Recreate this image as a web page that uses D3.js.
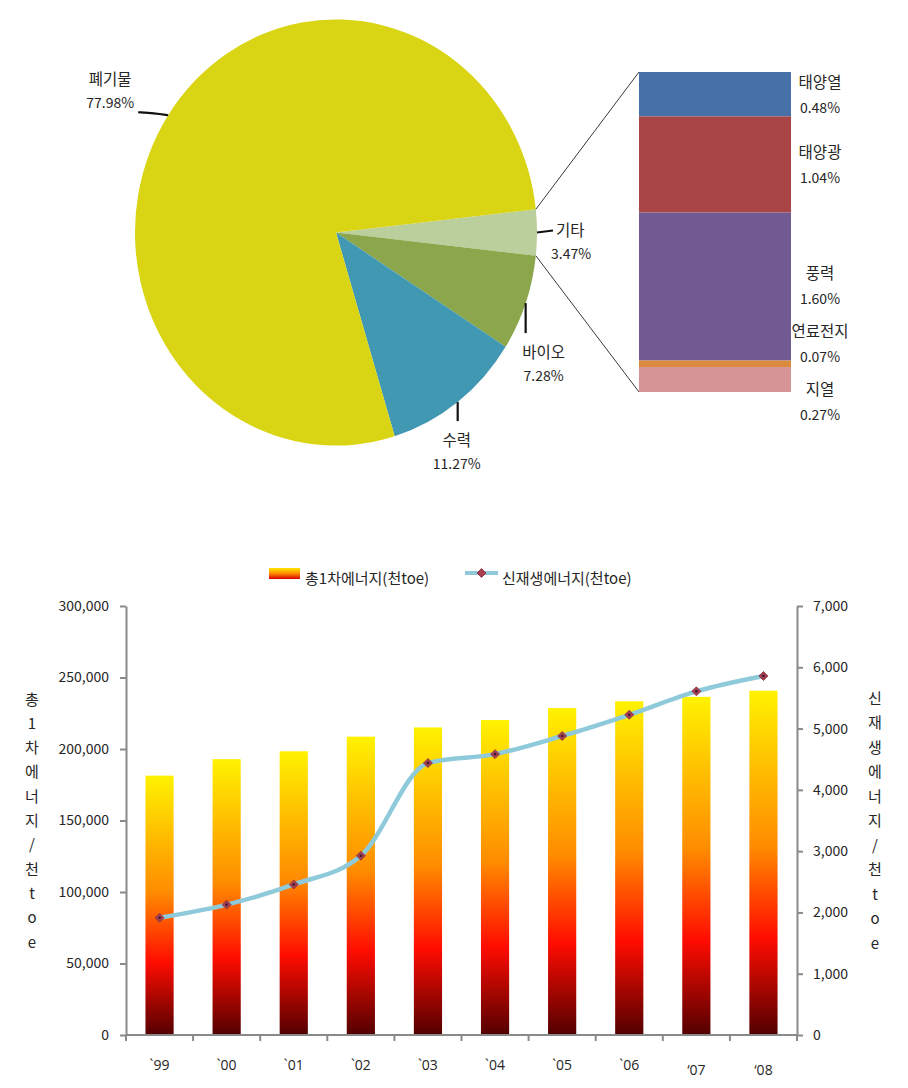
<!DOCTYPE html>
<html><head><meta charset="utf-8">
<script src="https://cdn.jsdelivr.net/npm/d3@7/dist/d3.min.js"></script>
<style>body{margin:0;background:#fff}svg{display:block}</style>
</head><body>
<script>
// ---------- data ----------
const pieCategories = ["기타", "바이오", "수력", "폐기물"];
const pieValues = [3.47, 7.28, 11.27, 77.98];
const otherCategories = ["태양열", "태양광", "풍력", "연료전지", "지열"];
const otherValues = [0.48, 1.04, 1.60, 0.07, 0.27];
const years = ["`99", "`00", "`01", "`02", "`03", "`04", "`05", "`06", "‘07", "‘08"];
const primaryEnergy = [181363, 192887, 198409, 208636, 215067, 220238, 228622, 233372, 236454, 240752];
const renewableEnergy = [1912, 2127, 2456, 2925, 4437, 4583, 4879, 5225, 5608, 5858];
const leftTicks = [0, 50000, 100000, 150000, 200000, 250000, 300000];
const rightTicks = [0, 1000, 2000, 3000, 4000, 5000, 6000, 7000];
const legendLabels = ["총1차에너지(천toe)", "신재생에너지(천toe)"];
const leftTitle = ["총","1","차","에","너","지","/","천","t","o","e"];
const rightTitle = ["신","재","생","에","너","지","/","천","t","o","e"];

// ---------- setup ----------
const W = 908, H = 1088;
const FONT = "'Noto Sans CJK KR','Noto Sans',sans-serif";
const NUMFONT = "'Open Sans','Noto Sans',sans-serif";
const TXT = "#262626";
const svg = d3.select("body").append("svg").attr("width", W).attr("height", H)
  .style("font-family", FONT);
svg.append("rect").attr("width", W).attr("height", H).attr("fill", "#fff");

const defs = svg.append("defs");
const bg = defs.append("linearGradient").attr("id", "barGrad").attr("x1", 0).attr("y1", 0).attr("x2", 0).attr("y2", 1);
[[0, "#FFF200"], [0.2, "#FFC400"], [0.45, "#FF8C00"], [0.72, "#FF0C00"], [1, "#520000"]]
  .forEach(([o, c]) => bg.append("stop").attr("offset", o).attr("stop-color", c));
const lg = defs.append("linearGradient").attr("id", "legGrad").attr("x1", 0).attr("y1", 0).attr("x2", 0).attr("y2", 1);
[[0, "#FFE800"], [0.5, "#FF8A00"], [1, "#D80000"]]
  .forEach(([o, c]) => lg.append("stop").attr("offset", o).attr("stop-color", c));

// ---------- pie ----------
const pieColors = ["#BACF9B", "#8BA64B", "#4198B3", "#D9D414"];
const cx = 336, cy = 232.5, R = 201, ky = 1.06;
const half = pieValues[0] / 100 * Math.PI;
const sa = Math.PI / 2 - half;
const pie = d3.pie().sort(null).value(d => d).startAngle(sa).endAngle(sa + 2 * Math.PI);
const arcs = pie(pieValues);
const arc = d3.arc().innerRadius(0).outerRadius(R);
const pg = svg.append("g").attr("transform", `translate(${cx},${cy}) scale(1,${ky})`);
pg.selectAll("path").data(arcs).join("path").attr("d", arc).attr("fill", (d, i) => pieColors[i]);

const edge = a => [cx + R * Math.sin(a), cy - R * ky * Math.cos(a)];

// connector lines to inset bar
const insetX0 = 639, insetX1 = 791, insetY0 = 72, insetY1 = 392;
const otherSum = d3.sum(otherValues);
const yIn = d3.scaleLinear().domain([0, otherSum]).range([insetY0, insetY1]);
const eTop = edge(arcs[0].startAngle), eBot = edge(arcs[0].endAngle);
svg.append("line").attr("x1", eTop[0]).attr("y1", eTop[1]).attr("x2", insetX0).attr("y2", yIn(0))
  .attr("stroke", "#3a3a3a").attr("stroke-width", 1);
svg.append("line").attr("x1", eBot[0]).attr("y1", eBot[1]).attr("x2", insetX0).attr("y2", yIn(otherSum))
  .attr("stroke", "#3a3a3a").attr("stroke-width", 1);

// pie labels with leader lines (layout offsets relative to slice mid-edge)
const pieLabelLayout = [
  { lead: [[16, -2]], tx: 19, ty: -2 },          // 기타
  { lead: [[0, 30]], tx: 18, ty: 18 },           // 바이오
  { lead: [[0, 19]], tx: -1, ty: 18 },           // 수력
  { lead: [[-14, -2], [-30, -3]], tx: -28, ty: -34 } // 폐기물
];
arcs.forEach((d, i) => {
  const mid = (d.startAngle + d.endAngle) / 2;
  const p0 = edge(mid);
  const L = pieLabelLayout[i];
  const pts = [p0].concat(L.lead.map(o => [p0[0] + o[0], p0[1] + o[1]]));
  svg.append("path").attr("d", d3.line().curve(d3.curveBasis)(pts))
    .attr("fill", "none").attr("stroke", "#111").attr("stroke-width", 2.2);
  const end = pts[pts.length - 1];
  const anchor = i === 0 ? "start" : "middle";
  svg.append("text").attr("x", i === 0 ? end[0] + 3 : end[0] + L.tx).attr("y", end[1] + L.ty)
    .attr("text-anchor", anchor).attr("dominant-baseline", "central")
    .attr("font-size", 15.5).attr("fill", TXT).text(pieCategories[i]);
  svg.append("text").attr("x", i === 0 ? end[0] - 2 : end[0] + L.tx).attr("y", end[1] + L.ty + 24)
    .attr("text-anchor", anchor).attr("dominant-baseline", "central")
    .attr("font-size", 14).attr("fill", TXT).text(pieValues[i].toFixed(2) + "%");
});

// inset stacked bar
const otherColors = ["#4670A6", "#A94645", "#715A91", "#DA8A3C", "#D69594"];
let acc = 0;
const segs = otherValues.map((v, i) => { const s = { i, v, y0: acc, y1: acc + v }; acc += v; return s; });
svg.append("g").selectAll("rect").data(segs).join("rect")
  .attr("x", insetX0).attr("width", insetX1 - insetX0)
  .attr("y", d => yIn(d.y0)).attr("height", d => yIn(d.y1) - yIn(d.y0))
  .attr("fill", d => otherColors[d.i]);

// dodge label centers (bottom-anchored relaxation)
let centers = segs.map(d => (yIn(d.y0) + yIn(d.y1)) / 2);
const gap = 58;
for (let it = 0; it < 50; it++) {
  for (let k = 0; k < centers.length - 1; k++) {
    const diff = centers[k + 1] - centers[k];
    if (diff < gap) { const m = (gap - diff) / 2; centers[k] -= m; centers[k + 1] += m; }
  }
}
segs.forEach((d, k) => {
  svg.append("text").attr("x", 820).attr("y", centers[k] - 13).attr("text-anchor", "middle")
    .attr("dominant-baseline", "central").attr("font-size", 15.5).attr("fill", TXT).text(otherCategories[d.i]);
  svg.append("text").attr("x", 820).attr("y", centers[k] + 13).attr("text-anchor", "middle")
    .attr("dominant-baseline", "central").attr("font-size", 14).attr("fill", TXT).text(otherValues[d.i].toFixed(2) + "%");
});

// ---------- bar + line chart ----------
const X0 = 126, X1 = 797, Y0 = 1035, Y1 = 606;
const x = d3.scaleBand().domain(years).range([X0, X1]).paddingInner(0.58).paddingOuter(0.29);
const yL = d3.scaleLinear().domain([0, 300000]).range([Y0, Y1]);
const yR = d3.scaleLinear().domain([0, 7000]).range([Y0, Y1]);
const AX = "#8a8a8a";

svg.append("g").selectAll("rect").data(primaryEnergy).join("rect")
  .attr("x", (d, i) => x(years[i])).attr("width", x.bandwidth())
  .attr("y", d => yL(d)).attr("height", d => Y0 - yL(d)).attr("fill", "url(#barGrad)");

// axes
const fmt = d3.format(",");
const gl = svg.append("g").attr("transform", `translate(${X0},0)`)
  .call(d3.axisLeft(yL).tickValues(leftTicks).tickFormat(fmt).tickSize(6).tickPadding(11).tickSizeOuter(0));
const gr = svg.append("g").attr("transform", `translate(${X1},0)`)
  .call(d3.axisRight(yR).tickValues(rightTicks).tickFormat(fmt).tickSize(6).tickPadding(10).tickSizeOuter(0));
[gl, gr].forEach(g => {
  g.select(".domain").attr("stroke", AX).attr("stroke-width", 2);
  g.selectAll(".tick line").attr("stroke", AX).attr("stroke-width", 2);
  g.selectAll(".tick text").attr("fill", TXT).attr("font-size", 14).attr("font-family", FONT);
});

// bottom axis: line + ticks at category boundaries
svg.append("line").attr("x1", X0).attr("x2", X1).attr("y1", Y0).attr("y2", Y0).attr("stroke", AX).attr("stroke-width", 2);
const step = x.step();
d3.range(years.length + 1).forEach(k => {
  const xx = X0 + k * step;
  svg.append("line").attr("x1", xx).attr("x2", xx).attr("y1", Y0).attr("y2", Y0 + 6).attr("stroke", AX).attr("stroke-width", 2);
});
svg.append("g").selectAll("text").data(years).join("text")
  .attr("x", d => x(d) + x.bandwidth() / 2)
  .attr("y", (d, i) => Y0 + (i >= 8 ? 34 : 29))
  .attr("text-anchor", "middle").attr("dominant-baseline", "central")
  .attr("font-family", NUMFONT)
  .attr("font-size", 14).attr("fill", TXT).text(d => d);

// line
const lineGen = d3.line().x((d, i) => x(years[i]) + x.bandwidth() / 2).y(d => yR(d)).curve(d3.curveMonotoneX);
svg.append("path").datum(renewableEnergy).attr("d", lineGen).attr("fill", "none")
  .attr("stroke", "#8FCADB").attr("stroke-width", 4.5).attr("stroke-linejoin", "round");
const diamond = d3.symbol().type(d3.symbolSquare).size(40);
svg.append("g").selectAll("path").data(renewableEnergy).join("path")
  .attr("d", diamond)
  .attr("transform", (d, i) => `translate(${x(years[i]) + x.bandwidth() / 2},${yR(d)}) rotate(45)`)
  .attr("fill", "#A8404F").attr("stroke", "#8a3040").attr("stroke-width", 0.8);
svg.append("g").selectAll("circle").data(renewableEnergy).join("circle")
  .attr("cx", (d, i) => x(years[i]) + x.bandwidth() / 2).attr("cy", d => yR(d)).attr("r", 1.3).attr("fill", "#3a1a3a");

// axis titles
leftTitle.forEach((c, i) => svg.append("text").attr("x", 32).attr("y", 698 + i * 24.3)
  .attr("text-anchor", "middle").attr("dominant-baseline", "central").attr("font-size", 15).attr("fill", TXT).text(c));
rightTitle.forEach((c, i) => svg.append("text").attr("x", 875).attr("y", 697 + i * 24.5)
  .attr("text-anchor", "middle").attr("dominant-baseline", "central").attr("font-size", 15).attr("fill", TXT).text(c));

// legend
const ly = 577;
svg.append("rect").attr("x", 269).attr("y", ly - 9).attr("width", 31).attr("height", 11).attr("fill", "url(#legGrad)");
svg.append("text").attr("x", 305).attr("y", ly).attr("dominant-baseline", "central").attr("font-size", 15).attr("fill", TXT).text(legendLabels[0]);
svg.append("line").attr("x1", 465).attr("x2", 498).attr("y1", ly - 4).attr("y2", ly - 4).attr("stroke", "#8FCADB").attr("stroke-width", 4);
svg.append("path").attr("d", diamond).attr("transform", `translate(481.5,${ly - 4}) rotate(45)`).attr("fill", "#A8404F").attr("stroke", "#8a3040").attr("stroke-width", 0.8);
svg.append("text").attr("x", 502).attr("y", ly).attr("dominant-baseline", "central").attr("font-size", 15).attr("fill", TXT).text(legendLabels[1]);
</script>
</body></html>
